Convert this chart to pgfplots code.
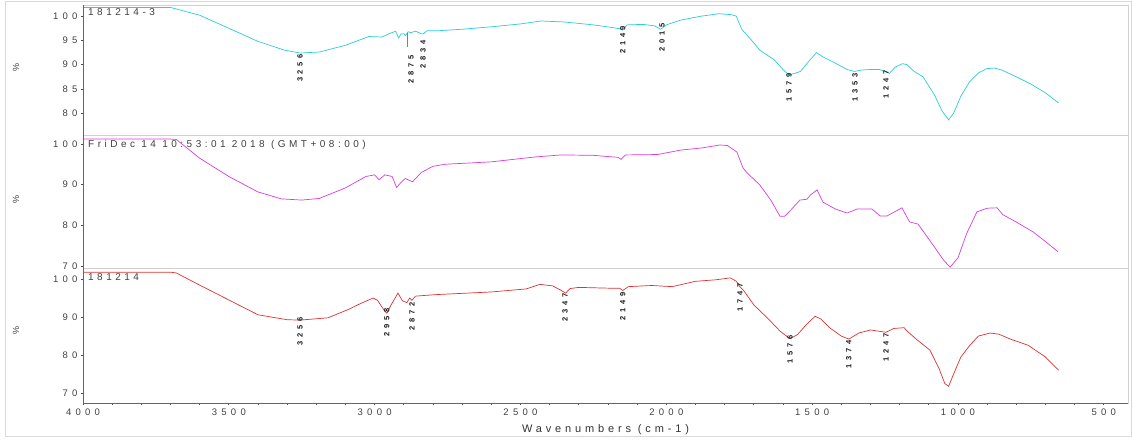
\documentclass[border=0pt]{standalone}
\usepackage{pgfplots}
\pgfplotsset{compat=1.18}
\usepackage{fontspec}
\setmainfont{Liberation Sans}
\definecolor{cy}{RGB}{40,205,215}
\definecolor{mg}{RGB}{215,60,220}
\definecolor{rd}{RGB}{220,50,50}
\newcommand\tickfont{\fontsize{9.5}{10}\selectfont\addfontfeature{LetterSpace=45}}
\newcommand\panfont{\fontsize{10}{11}\selectfont\addfontfeature{LetterSpace=35}}
\pgfplotsset{
  panel/.style={
    scale only axis, width=1045pt, x dir=reverse, xmin=417, xmax=4000,
    axis line style={black!18}, ytick pos=left, tick align=outside,
    major tick length=2pt, tick style={black!70, line width=0.8pt},
    /pgf/number format/assume math mode=true,
    ticklabel style={font=\tickfont, text=black!75},
    clip=true,
  },
}
\tikzset{pk/.style={rotate=90, anchor=east, inner sep=0.3pt, font=\fontsize{7.5}{7.5}\selectfont\bfseries\addfontfeature{LetterSpace=50}, text=black!90}}
\begin{document}
\begin{tikzpicture}[x=1pt,y=1pt]
\useasboundingbox (0,0) rectangle (1132,439);
\draw[black!15, line width=0.8pt] (5,3) rectangle (1131,438);
% ---------------- top panel
\begin{axis}[panel, at={(83pt,304pt)}, anchor=south west, height=130pt,
  ymin=75.5, ymax=102.3, ytick={80,85,90,95,100}, xtick=\empty]
\addplot[cy, line width=0.7pt] coordinates {
(4000,101.8)(3800,101.8)(3700,101.8)(3600,100.2)(3500,97.5)(3400,94.8)(3310,93.0)(3256,92.4)(3190,92.6)(3100,94.0)(3020,95.8)(2975,95.7)(2945,96.5)(2928,96.9)(2918,95.5)(2910,96.3)(2900,96.4)(2895,96.0)(2885,96.8)(2876,96.6)(2860,96.9)(2840,96.4)(2834,96.3)(2820,97.0)(2780,97.0)(2700,97.3)(2600,97.8)(2500,98.4)(2430,99.0)(2350,98.8)(2250,98.2)(2180,97.6)(2160,97.4)(2150,97.1)(2135,98.2)(2080,98.3)(2040,98.0)(2020,97.3)(2000,98.2)(1950,99.2)(1880,100.0)(1820,100.5)(1775,100.3)(1760,100.0)(1750,98.5)(1740,97.2)(1700,94.5)(1680,93.0)(1630,91.0)(1600,89.0)(1580,87.9)(1560,88.2)(1540,88.6)(1510,90.8)(1485,92.5)(1460,91.5)(1420,90.3)(1380,89.0)(1355,88.6)(1330,88.9)(1300,89.0)(1270,89.0)(1250,88.6)(1235,88.2)(1215,89.5)(1190,90.2)(1175,90.0)(1150,88.6)(1120,87.5)(1080,83.7)(1055,80.5)(1032,78.6)(1015,80.0)(990,83.5)(960,86.5)(930,88.3)(900,89.2)(875,89.3)(850,88.9)(800,87.5)(750,86.0)(700,84.2)(655,82.1)};
\draw[black!60, line width=0.8pt] (rel axis cs:0,0) -- (rel axis cs:0,1);
\node[anchor=north west, inner sep=0pt, font=\panfont, text=black!75] at ([xshift=5pt,yshift=-3pt]rel axis cs:0,1) {181214-3};
\node[pk] at (axis cs:3256,92.3) {3256};
\draw[black!50] (axis cs:2890,96.6) -- (axis cs:2890,93.6);
\node[pk] at (axis cs:2875,92.0) {2875};
\node[pk] at (axis cs:2834,95.1) {2834};
\node[pk] at (axis cs:2149,98.1) {2149};
\node[pk] at (axis cs:2015,98.6) {2015};
\node[pk] at (axis cs:1579,88.3) {1579};
\node[pk] at (axis cs:1353,88.3) {1353};
\node[pk] at (axis cs:1247,88.9) {1247};
\end{axis}
% ---------------- middle panel
\begin{axis}[panel, at={(83pt,171pt)}, anchor=south west, height=133pt,
  ymin=69.5, ymax=102.2, ytick={70,80,90,100}, xtick=\empty]
\addplot[mg, line width=0.7pt] coordinates {
(4000,101.2)(3700,101.2)(3680,101.1)(3600,96.5)(3500,92.0)(3400,88.2)(3320,86.5)(3250,86.2)(3190,86.6)(3100,89.2)(3030,92.0)(3000,92.4)(2985,91.2)(2965,92.4)(2940,92.0)(2925,89.3)(2910,90.5)(2895,91.5)(2870,90.7)(2840,93.0)(2800,94.5)(2760,95.0)(2600,95.6)(2450,96.8)(2360,97.3)(2250,97.2)(2165,96.7)(2155,96.2)(2140,97.3)(2030,97.4)(1950,98.5)(1880,99.0)(1816,99.75)(1790,99.6)(1758,98.0)(1737,94.1)(1723,92.9)(1679,89.9)(1640,86.0)(1610,82.2)(1595,82.2)(1570,84.0)(1542,86.2)(1518,86.4)(1505,87.5)(1483,88.7)(1463,85.7)(1420,84.0)(1380,83.0)(1346,84.0)(1295,84.0)(1267,82.3)(1243,82.3)(1192,84.3)(1175,82.0)(1165,80.8)(1137,80.3)(1086,75.2)(1050,71.5)(1027,69.7)(1000,72.0)(970,78.0)(935,83.3)(900,84.2)(866,84.3)(846,82.6)(800,80.8)(743,78.4)(700,76.0)(657,73.5)};
\draw[black!60, line width=0.8pt] (rel axis cs:0,0) -- (rel axis cs:0,1);
\node[anchor=north west, inner sep=0pt, font=\panfont, text=black!75] at ([xshift=5pt,yshift=-5pt]rel axis cs:0,1) {FriDec 14 10:53:01 2018 (GMT+08:00)};
\end{axis}
% ---------------- bottom panel
\begin{axis}[panel, at={(83pt,36pt)}, anchor=south west, height=135pt,
  ymin=67.4, ymax=102.9, ytick={70,80,90,100},
  xtick={500,1000,...,4000}, minor x tick num=4, xtick pos=bottom,
  minor tick length=1.5pt,
  xlabel={Wavenumbers (cm-1)},
  xlabel style={font=\fontsize{11}{12}\selectfont\addfontfeature{LetterSpace=35}, text=black!80, yshift=-2pt},
  xticklabel style={/pgf/number format/1000 sep={}}]
\addplot[rd, line width=0.7pt] coordinates {
(4000,101.8)(3700,101.8)(3680,101.6)(3600,98.4)(3500,94.5)(3400,90.6)(3300,89.3)(3256,89.2)(3160,89.8)(3090,92.0)(3050,93.5)(3005,95.0)(2990,94.4)(2965,91.5)(2958,91.0)(2945,93.0)(2930,95.0)(2920,96.3)(2905,94.3)(2890,93.8)(2880,95.0)(2872,94.4)(2860,95.5)(2790,95.9)(2600,96.6)(2480,97.4)(2433,98.6)(2390,98.2)(2360,97.0)(2345,96.3)(2330,97.5)(2300,97.8)(2200,97.6)(2160,97.6)(2149,97.0)(2130,98.0)(2050,98.3)(1980,98.0)(1900,99.4)(1830,99.8)(1780,100.3)(1760,99.4)(1748,98.0)(1735,97.0)(1700,93.2)(1650,89.5)(1610,86.3)(1576,84.3)(1550,85.4)(1520,88.0)(1490,90.2)(1470,89.5)(1440,87.2)(1400,85.0)(1374,84.2)(1340,85.8)(1300,86.6)(1265,86.2)(1247,86.0)(1220,87.0)(1185,87.2)(1170,86.0)(1140,84.0)(1096,81.3)(1065,76.5)(1045,72.5)(1032,71.8)(1015,75.0)(990,79.5)(960,82.5)(930,85.0)(890,85.8)(860,85.5)(820,84.2)(760,82.6)(700,79.5)(655,76.0)};
\draw[black!60, line width=0.8pt] (rel axis cs:0,0) -- (rel axis cs:0,1);
\draw[black!60, line width=0.8pt] (rel axis cs:0,0) -- (rel axis cs:1,0);
\node[anchor=north west, inner sep=0pt, font=\panfont, text=black!75] at ([xshift=5pt,yshift=-5pt]rel axis cs:0,1) {181214};
\node[pk] at (axis cs:3256,90.0) {3256};
\node[pk] at (axis cs:2958,92.4) {2958};
\node[pk] at (axis cs:2872,94.0) {2872};
\node[pk] at (axis cs:2347,96.3) {2347};
\node[pk] at (axis cs:2149,96.6) {2149};
\node[pk] at (axis cs:1747,98.9) {1747};
\node[pk] at (axis cs:1576,85.3) {1576};
\node[pk] at (axis cs:1374,84.0) {1374};
\node[pk] at (axis cs:1247,85.8) {1247};
\end{axis}
\node[rotate=90, font=\fontsize{9}{10}\selectfont, text=black!75] at (16,371) {\%};
\node[rotate=90, font=\fontsize{9}{10}\selectfont, text=black!75] at (16,239) {\%};
\node[rotate=90, font=\fontsize{9}{10}\selectfont, text=black!75] at (16,109) {\%};
\end{tikzpicture}
\end{document}
